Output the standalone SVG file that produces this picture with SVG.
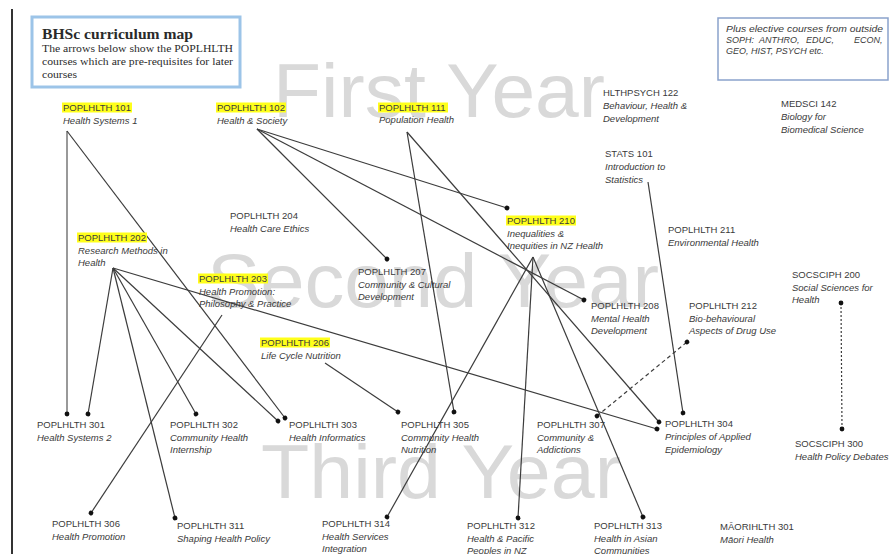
<svg xmlns="http://www.w3.org/2000/svg" width="896" height="554" viewBox="0 0 896 554">
<style>
.c{font-family:"Liberation Sans",Arial,sans-serif;font-size:9.5px;fill:#3a3a3a}
.n{font-style:italic}
.hl{fill:#ffff1a}
.wm{font-family:"Liberation Sans",Arial,sans-serif;font-size:76px;fill:#d9d9d9}
.ln{stroke:#3c3c3c;stroke-width:1.2;fill:none;marker-end:url(#dot)}
.dl{stroke:#3c3c3c;stroke-width:1.2;fill:none;marker-end:url(#dot);marker-start:url(#dot)}
.tt{font-family:"Liberation Serif","Times New Roman",serif;fill:#2a2a2a}
.el{font-family:"Liberation Sans",Arial,sans-serif;font-size:9px;font-style:italic;fill:#3a3a3a}
</style>
<defs>
<marker id="dot" viewBox="0 0 6 6" refX="3" refY="3" markerWidth="6" markerHeight="6" markerUnits="userSpaceOnUse" orient="auto">
<circle cx="3" cy="3" r="2.4" fill="#111"/>
</marker>
</defs>
<rect width="896" height="554" fill="#fff"/>
<line x1="12" y1="9" x2="12" y2="554" stroke="#333" stroke-width="2"/>
<g id="watermarks">
<text class="wm" x="273" y="117" textLength="332" lengthAdjust="spacingAndGlyphs">First Year</text>
<text class="wm" x="207" y="307" textLength="452" lengthAdjust="spacingAndGlyphs">Second Year</text>
<text class="wm" x="261" y="498" textLength="360" lengthAdjust="spacingAndGlyphs">Third Year</text>
</g>
<g id="title">
<rect x="32" y="17" width="208" height="70" fill="#fff" stroke="#9cc4e8" stroke-width="3"/>
<text class="tt" x="42" y="39" font-size="15" font-weight="bold" textLength="151" lengthAdjust="spacingAndGlyphs">BHSc curriculum map</text>
<text class="tt" x="42" y="52" font-size="9.5" textLength="191" lengthAdjust="spacingAndGlyphs">The arrows below show the POPLHLTH</text>
<text class="tt" x="42" y="65" font-size="9.5" textLength="191" lengthAdjust="spacingAndGlyphs">courses which are pre-requisites for later</text>
<text class="tt" x="42" y="78" font-size="9.5" textLength="35" lengthAdjust="spacingAndGlyphs">courses</text>
</g>
<g id="electives">
<rect x="718" y="18" width="170" height="62" fill="#fff" stroke="#8aa2cc" stroke-width="1.5"/>
<text class="el" x="726" y="32" textLength="157" lengthAdjust="spacingAndGlyphs">Plus elective courses from outside</text>
<text class="el" y="43"><tspan x="726">SOPH:</tspan><tspan x="759">ANTHRO,</tspan><tspan x="806">EDUC,</tspan><tspan x="854">ECON,</tspan></text>
<text class="el" x="726" y="54">GEO, HIST, PSYCH etc.</text>
</g>
<g id="connectors">
<line x1="67" y1="131" x2="67" y2="414" stroke="#999" stroke-width="2" marker-end="url(#dot)"/>
<line class="ln" x1="67" y1="131" x2="285" y2="418"/>
<line class="ln" x1="257" y1="129" x2="387" y2="259"/>
<line class="ln" x1="257" y1="129" x2="507" y2="208"/>
<line class="ln" x1="257" y1="129" x2="584" y2="300"/>
<line class="ln" x1="407" y1="132" x2="454" y2="412"/>
<line class="ln" x1="407" y1="132" x2="659" y2="422"/>
<line class="ln" x1="113" y1="268" x2="88" y2="414"/>
<line class="ln" x1="113" y1="268" x2="175" y2="518"/>
<line class="ln" x1="113" y1="268" x2="196" y2="414"/>
<line class="ln" x1="113" y1="268" x2="278" y2="421"/>
<line class="ln" x1="113" y1="268" x2="657" y2="429"/>
<line class="ln" x1="222" y1="315" x2="91" y2="513"/>
<line class="ln" x1="325" y1="363" x2="398" y2="412"/>
<line class="ln" x1="533" y1="257" x2="387" y2="517"/>
<line class="ln" x1="533" y1="257" x2="518" y2="518"/>
<line class="ln" x1="533" y1="257" x2="643" y2="517"/>
<line class="ln" x1="648" y1="182" x2="683" y2="413"/>
<line class="dl" x1="597" y1="416" x2="687" y2="342" stroke-dasharray="4,3"/>
<line class="dl" x1="841" y1="303" x2="842" y2="429" stroke-dasharray="2,2"/>
</g>
<g id="n101"><rect class="hl" x="62" y="102.5" width="70" height="10"/><text class="c" x="63" y="111">POPLHLTH 101</text><text class="c n" x="63" y="124">Health Systems 1</text></g>
<g id="n102"><rect class="hl" x="216" y="102.5" width="70" height="10"/><text class="c" x="217" y="111">POPLHLTH 102</text><text class="c n" x="217" y="124">Health &amp; Society</text></g>
<g id="n111"><rect class="hl" x="378" y="102.5" width="70" height="10"/><text class="c" x="379" y="111">POPLHLTH 111</text><text class="c n" x="379" y="123">Population Health</text></g>
<g id="n122"><text class="c" x="603" y="96">HLTHPSYCH  122</text><text class="c n" x="603" y="109">Behaviour, Health &amp;</text><text class="c n" x="603" y="122">Development</text></g>
<g id="n142"><text class="c" x="781" y="107">MEDSCI 142</text><text class="c n" x="781" y="120">Biology for</text><text class="c n" x="781" y="133">Biomedical Science</text></g>
<g id="nstats"><text class="c" x="605" y="157">STATS 101</text><text class="c n" x="605" y="170">Introduction to</text><text class="c n" x="605" y="183">Statistics</text></g>
<g id="n204"><text class="c" x="230" y="219">POPLHLTH 204</text><text class="c n" x="230" y="232">Health Care Ethics</text></g>
<g id="n202"><rect class="hl" x="77" y="232.5" width="70" height="10"/><text class="c" x="78" y="241">POPLHLTH 202</text><text class="c n" x="78" y="253.5">Research Methods in</text><text class="c n" x="78" y="266">Health</text></g>
<g id="n210"><rect class="hl" x="506" y="215.5" width="70" height="10"/><text class="c" x="507" y="224">POPLHLTH 210</text><text class="c n" x="507" y="236.5">Inequalities &amp;</text><text class="c n" x="507" y="249">Inequities in NZ Health</text></g>
<g id="n211"><text class="c" x="668" y="233">POPLHLTH 211</text><text class="c n" x="668" y="245.5">Environmental Health</text></g>
<g id="n203"><rect class="hl" x="198" y="273.5" width="70" height="10"/><text class="c" x="199" y="282">POPLHLTH 203</text><text class="c n" x="199" y="294.5">Health Promotion:</text><text class="c n" x="199" y="307">Philosophy &amp; Practice</text></g>
<g id="n207"><text class="c" x="358" y="275">POPLHLTH 207</text><text class="c n" x="358" y="287.5">Community &amp; Cultural</text><text class="c n" x="358" y="300">Development</text></g>
<g id="ns200"><text class="c" x="792" y="278">SOCSCIPH 200</text><text class="c n" x="792" y="290.5">Social Sciences for</text><text class="c n" x="792" y="303">Health</text></g>
<g id="n208"><text class="c" x="591" y="309">POPLHLTH 208</text><text class="c n" x="591" y="321.5">Mental Health</text><text class="c n" x="591" y="334">Development</text></g>
<g id="n212"><text class="c" x="689" y="309">POPLHLTH 212</text><text class="c n" x="689" y="321.5">Bio-behavioural</text><text class="c n" x="689" y="334">Aspects of Drug Use</text></g>
<g id="n206"><rect class="hl" x="260" y="337.5" width="70" height="10"/><text class="c" x="261" y="346">POPLHLTH 206</text><text class="c n" x="261" y="358.5">Life Cycle Nutrition</text></g>
<g id="n301"><text class="c" x="37" y="428">POPLHLTH 301</text><text class="c n" x="37" y="441">Health Systems 2</text></g>
<g id="n302"><text class="c" x="170" y="428">POPLHLTH 302</text><text class="c n" x="170" y="440.5">Community Health</text><text class="c n" x="170" y="453">Internship</text></g>
<g id="n303"><text class="c" x="289" y="428">POPLHLTH 303</text><text class="c n" x="289" y="440.5">Health Informatics</text></g>
<g id="n305"><text class="c" x="401" y="428">POPLHLTH 305</text><text class="c n" x="401" y="440.5">Community Health</text><text class="c n" x="401" y="453">Nutrition</text></g>
<g id="n307"><text class="c" x="537" y="428">POPLHLTH 307</text><text class="c n" x="537" y="440.5">Community &amp;</text><text class="c n" x="537" y="453">Addictions</text></g>
<g id="n304"><text class="c" x="665" y="427">POPLHLTH 304</text><text class="c n" x="665" y="440">Principles of Applied</text><text class="c n" x="665" y="453">Epidemiology</text></g>
<g id="ns300"><text class="c" x="795" y="447">SOCSCIPH 300</text><text class="c n" x="795" y="460">Health Policy Debates</text></g>
<g id="n306"><text class="c" x="52" y="527">POPLHLTH 306</text><text class="c n" x="52" y="540">Health Promotion</text></g>
<g id="n311"><text class="c" x="177" y="529">POPLHLTH 311</text><text class="c n" x="177" y="542">Shaping Health Policy</text></g>
<g id="n314"><text class="c" x="322" y="527">POPLHLTH 314</text><text class="c n" x="322" y="539.5">Health Services</text><text class="c n" x="322" y="552">Integration</text></g>
<g id="n312"><text class="c" x="467" y="529">POPLHLTH 312</text><text class="c n" x="467" y="541.5">Health &amp; Pacific</text><text class="c n" x="467" y="554">Peoples in NZ</text></g>
<g id="n313"><text class="c" x="594" y="529">POPLHLTH 313</text><text class="c n" x="594" y="541.5">Health in Asian</text><text class="c n" x="594" y="554">Communities</text></g>
<g id="nm301"><text class="c" x="720" y="530">MĀORIHLTH 301</text><text class="c n" x="720" y="543">Māori Health</text></g>
</svg>
